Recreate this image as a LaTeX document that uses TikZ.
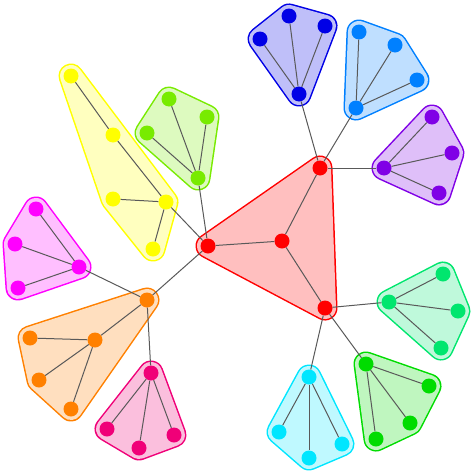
\documentclass[tikz,border=0pt]{standalone}
\definecolor{cRed}{RGB}{255,0,0}
\definecolor{cBlue}{RGB}{0,0,230}
\definecolor{cDodger}{RGB}{0,128,255}
\definecolor{cPurple}{RGB}{128,0,230}
\definecolor{cSpring}{RGB}{0,230,110}
\definecolor{cGreen}{RGB}{0,220,0}
\definecolor{cCyan}{RGB}{0,230,255}
\definecolor{cPink}{RGB}{240,0,120}
\definecolor{cOrange}{RGB}{255,128,0}
\definecolor{cMagenta}{RGB}{255,0,255}
\definecolor{cYellow}{RGB}{255,255,0}
\definecolor{cLime}{RGB}{120,235,0}
\tikzset{
  vtx/.style={circle, fill=#1, draw=none, inner sep=0pt, minimum size=15pt},
  edge/.style={draw=black!65, line width=1pt},
}
\newcommand\myhull[2]{%
  \draw[line width=25pt, line join=round, draw=#1, fill=#1] #2 -- cycle;
  \draw[line width=22pt, line join=round, draw=#1!25!white, fill=#1!25!white] #2 -- cycle;
}
\begin{document}
\begin{tikzpicture}[x=1pt,y=-1pt]
\useasboundingbox (0,0) rectangle (474,474);
% coordinates
\coordinate (r1) at (208,246); \coordinate (r2) at (320,168); \coordinate (r3) at (325,308); \coordinate (rc) at (282,241);
\coordinate (b0) at (299,94); \coordinate (b1) at (289,16); \coordinate (b2) at (260,39); \coordinate (b3) at (325,26);
\coordinate (d0) at (356,108); \coordinate (d1) at (359,32); \coordinate (d2) at (395,45); \coordinate (d3) at (417,80);
\coordinate (p0) at (384,168); \coordinate (p1) at (432,117); \coordinate (p2) at (452,153); \coordinate (p3) at (439,193);
\coordinate (s0) at (389,302); \coordinate (s1) at (443,274); \coordinate (s2) at (458,311); \coordinate (s3) at (441,348);
\coordinate (g0) at (366,364); \coordinate (g1) at (429,386); \coordinate (g2) at (410,423); \coordinate (g3) at (376,439);
\coordinate (c0) at (309,377); \coordinate (c1) at (279,432); \coordinate (c2) at (309,458); \coordinate (c3) at (342,444);
\coordinate (k0) at (151,373); \coordinate (k1) at (107,429); \coordinate (k2) at (139,448); \coordinate (k3) at (174,435);
\coordinate (o0) at (147,300); \coordinate (o1) at (95,340); \coordinate (o2) at (30,338); \coordinate (o3) at (39,380); \coordinate (o4) at (71,409);
\coordinate (m0) at (79,267); \coordinate (m1) at (36,209); \coordinate (m2) at (15,244); \coordinate (m3) at (18,288);
\coordinate (y0) at (166,202); \coordinate (y1) at (71,76); \coordinate (y2) at (113,135); \coordinate (y3) at (113,199); \coordinate (y4) at (153,249);
\coordinate (l0) at (198,178); \coordinate (l1) at (169,99); \coordinate (l2) at (207,117); \coordinate (l3) at (147,133);
% hulls
\myhull{cRed}{(r1) -- (r2) -- (r3)}
\myhull{cBlue}{(b1) -- (b3) -- (b0) -- (b2)}
\myhull{cDodger}{(d1) -- (d2) -- (d3) -- (d0)}
\myhull{cPurple}{(p1) -- (p2) -- (p3) -- (p0)}
\myhull{cSpring}{(s1) -- (s2) -- (s3) -- (s0)}
\myhull{cGreen}{(g0) -- (g1) -- (g2) -- (g3)}
\myhull{cCyan}{(c0) -- (c3) -- (c2) -- (c1)}
\myhull{cPink}{(k0) -- (k3) -- (k2) -- (k1)}
\myhull{cOrange}{(o0) -- (o4) -- (o3) -- (o2)}
\myhull{cMagenta}{(m1) -- (m0) -- (m3) -- (m2)}
\myhull{cYellow}{(y1) -- (y0) -- (y4) -- (y3)}
\myhull{cLime}{(l1) -- (l2) -- (l0) -- (l3)}
% nodes
\foreach \n/\c in {r1/cRed,r2/cRed,r3/cRed,rc/cRed,
  b0/cBlue,b1/cBlue,b2/cBlue,b3/cBlue,
  d0/cDodger,d1/cDodger,d2/cDodger,d3/cDodger,
  p0/cPurple,p1/cPurple,p2/cPurple,p3/cPurple,
  s0/cSpring,s1/cSpring,s2/cSpring,s3/cSpring,
  g0/cGreen,g1/cGreen,g2/cGreen,g3/cGreen,
  c0/cCyan,c1/cCyan,c2/cCyan,c3/cCyan,
  k0/cPink,k1/cPink,k2/cPink,k3/cPink,
  o0/cOrange,o1/cOrange,o2/cOrange,o3/cOrange,o4/cOrange,
  m0/cMagenta,m1/cMagenta,m2/cMagenta,m3/cMagenta,
  y0/cYellow,y1/cYellow,y2/cYellow,y3/cYellow,y4/cYellow,
  l0/cLime,l1/cLime,l2/cLime,l3/cLime}
  {\node[vtx=\c] (n\n) at (\n) {};}
% edges
\foreach \a/\b in {rc/r1,rc/r2,rc/r3,
  r2/b0,r2/d0,r2/p0,r3/s0,r3/g0,r3/c0,r1/o0,r1/y0,r1/l0,
  o0/m0,o0/k0,
  b0/b1,b0/b2,b0/b3,d0/d1,d0/d2,d0/d3,p0/p1,p0/p2,p0/p3,
  s0/s1,s0/s2,s0/s3,g0/g1,g0/g2,g0/g3,c0/c1,c0/c2,c0/c3,
  k0/k1,k0/k2,k0/k3,o0/o1,o1/o2,o1/o3,o1/o4,
  m0/m1,m0/m2,m0/m3,y1/y2,y2/y0,y3/y0,y0/y4,
  l0/l1,l0/l2,l0/l3}
  {\draw[edge] (n\a) -- (n\b);}
\end{tikzpicture}
\end{document}
